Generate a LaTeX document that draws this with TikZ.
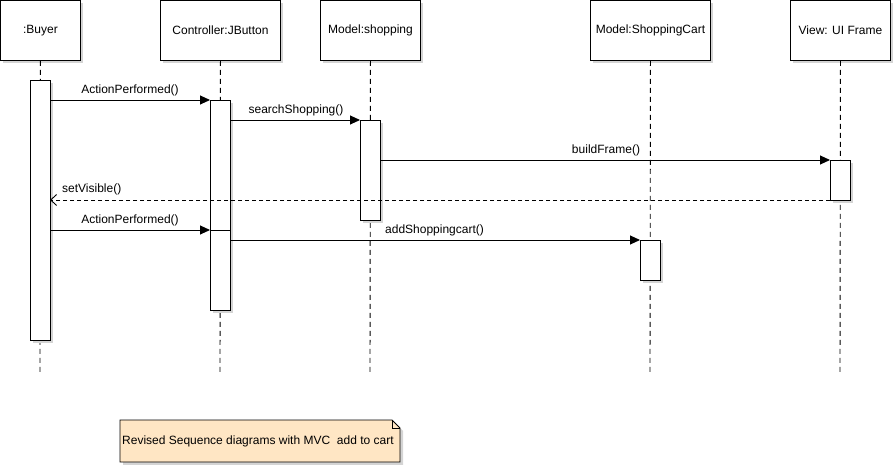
\documentclass[tikz,border=0pt]{standalone}
\usepackage{fontspec}
\setmainfont{Liberation Sans}
\usetikzlibrary{arrows.meta,shadows}
\definecolor{shadowgray}{HTML}{D4D4D4}
\definecolor{notefill}{HTML}{FFE6C4}
\tikzset{
  x=1pt,y=-1pt,
  every node/.style={font=\fontsize{12}{14}\selectfont, inner sep=0pt},
  shade3/.style={drop shadow={shadow xshift=3pt,shadow yshift=-3pt,fill=shadowgray,opacity=1}},
  headbox/.style={draw=black, line width=0.9pt, fill=white, shade3, minimum height=60pt, anchor=north west},
  actbox/.style={draw=black, line width=0.9pt, fill=white, shade3, minimum width=20pt, anchor=north west},
  lifeline/.style={draw=black, line width=0.9pt, dash pattern=on 5pt off 4pt},
  msg/.style={draw=black, line width=0.9pt, -{Triangle[length=10pt,width=9pt]}},
  retmsg/.style={draw=black, line width=0.9pt, dash pattern=on 4pt off 3pt, -{Straight Barb[length=6pt,width=11pt,line width=0.9pt]}},
  lbl/.style={anchor=base},
}
\begin{document}
\begin{tikzpicture}
\useasboundingbox (0,0) rectangle (895,465);
% heads
\node[headbox, minimum width=80pt] (buyer) at (0,0) {:Buyer};
\node[headbox, minimum width=120pt] (ctrl) at (160,0) {Controller:JButton};
\node[headbox, minimum width=100pt] (shop) at (320,0) {Model:shopping};
\node[headbox, minimum width=120pt] (cart) at (590,0) {Model:ShoppingCart};
\node[headbox, minimum width=100pt] (view) at (790,0) {View: UI Frame};
% lifeline ends
\coordinate (buyerEnd) at (40,375);
\coordinate (ctrlEnd) at (220,375);
\coordinate (shopEnd) at (370,375);
\coordinate (cartEnd) at (650,375);
\coordinate (viewEnd) at (840,375);
\draw[lifeline] (buyer.south) -- (buyerEnd);
\draw[lifeline] (ctrl.south) -- (ctrlEnd);
\draw[lifeline] (shop.south) -- (shopEnd);
\draw[lifeline] (cart.south) -- (cartEnd);
\draw[lifeline] (view.south) -- (viewEnd);
% activations
\node[actbox, minimum height=260pt] (aBuyer) at (30,80) {};
\node[actbox, minimum height=210pt] (aCtrl) at (210,100) {};
\node[actbox, minimum height=100pt] (aShop) at (360,120) {};
\node[actbox, minimum height=40pt] (aCart) at (640,240) {};
\node[actbox, minimum height=40pt] (aView) at (830,160) {};
% message end points
\coordinate (m1a) at (50,100);  \coordinate (m1b) at (210,100);
\coordinate (m2a) at (230,120); \coordinate (m2b) at (360,120);
\coordinate (m3a) at (380,160); \coordinate (m3b) at (830,160);
\coordinate (m4a) at (830,200); \coordinate (m4b) at (50,200);
\coordinate (m5a) at (50,230);  \coordinate (m5b) at (210,230);
\coordinate (m6a) at (230,240); \coordinate (m6b) at (640,240);
\draw[msg] (m1a) -- (m1b);
\draw[msg] (m2a) -- (m2b);
\draw[msg] (m3a) -- (m3b);
\draw[retmsg] (m4a) -- (m4b);
\draw[msg] (m5a) -- (m5b);
\draw[msg] (m6a) -- (m6b);
\draw[draw=black, line width=0.9pt] (m5b) -- (230,230) coordinate (m5c);
% labels
\node[lbl] (l1) at (130,94) {ActionPerformed()};
\node[lbl] (l2) at (296,114) {searchShopping()};
\node[lbl] (l3) at (606,154) {buildFrame()};
\node[lbl, anchor=base west] (l4) at (62,193) {setVisible()};
\node[lbl] (l5) at (130,224) {ActionPerformed()};
\node[lbl, anchor=base west] (l6) at (385,234) {addShoppingcart()};
% note
\fill[shadowgray] (123,423) -- (395,423) -- (403,431) -- (403,465) -- (123,465) -- cycle;
\filldraw[fill=notefill, draw=black, line width=0.9pt] (120,420) coordinate (nA) -- (392,420) -- (400,428) -- (400,462) -- (120,462) -- cycle;
\draw[line width=0.9pt] (392,420) -- (392,428) -- (400,428);
\node[anchor=west] (note) at (122,441) {Revised Sequence diagrams with MVC\ \ add to cart};
\end{tikzpicture}
\end{document}
